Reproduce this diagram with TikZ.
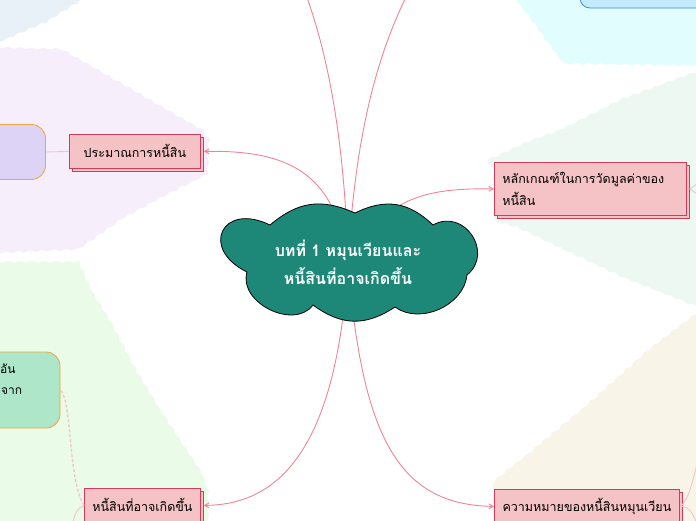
\documentclass[tikz,border=0pt]{standalone}
\usepackage{fontspec}
\newfontfamily\thaifont[Script=Thai]{Loma}
\usetikzlibrary{arrows,shadows,decorations.pathmorphing}
\definecolor{coreteal}{HTML}{1E8878}
\definecolor{boxfill}{HTML}{F5C3C5}
\definecolor{boxline}{HTML}{D23C5A}
\definecolor{linkpink}{HTML}{F08496}
\definecolor{faintpink}{HTML}{F4C4CC}
\definecolor{sideorange}{HTML}{F0A43C}
\definecolor{sidepurple}{HTML}{DDD3F7}
\definecolor{sidegreen}{HTML}{ADE6C9}
\definecolor{sideblue}{HTML}{C3EBFB}
\definecolor{sideblueline}{HTML}{3C8ED8}
\definecolor{zoneblue}{HTML}{E7F1F7}
\definecolor{zonepurple}{HTML}{F6EEFB}
\definecolor{zonegreen}{HTML}{EAFBE8}
\definecolor{zonecyan}{HTML}{E1FDFD}
\definecolor{zonemint}{HTML}{EEF8F3}
\definecolor{zonebeige}{HTML}{F9F4E8}
\tikzset{
  topic/.style={draw=boxline, fill=boxfill, line width=0.8pt, inner xsep=8pt,
    font=\thaifont\fontsize{12.5}{22}\selectfont, anchor=north west,
    copy shadow={shadow xshift=3pt, shadow yshift=-3pt}},
  link/.style={draw=linkpink, line width=0.9pt},
  zone/.style={decorate, decoration={snake, amplitude=1pt, segment length=12pt}},
  side/.style={draw=sideorange, line width=0.8pt, rounded corners=14pt}
}

\begin{document}
\begin{tikzpicture}[x=1pt, y=-1pt, >=angle 60]
 \useasboundingbox (0,0) rectangle (696,520);
 \clip (0,0) rectangle (696,520);
 \begin{scope}
  \fill[zoneblue, zone] (-20,-20) -- (100,-20) -- (80,0) -- (40,25) -- (0,42) -- (-20,44) -- cycle;
  \fill[zonepurple, zone] (-20,47) -- (60,49) -- (197,128) -- (206,140) -- (204,178) -- (160,200) -- (120,222) -- (77,252) -- (-20,256) -- cycle;
  \fill[zonegreen, zone] (-20,262) -- (78,262) -- (90,290) -- (110,323) -- (133,367) -- (157,407) -- (200,472) -- (206,490) -- (206,540) -- (-20,540) -- cycle;
  \fill[zonecyan, zone] (517,-20) -- (517,0) -- (533,20) -- (547,40) -- (563,60) -- (716,62) -- (716,-20) -- cycle;
  \fill[zonemint, zone] (488,160) -- (520,145) -- (560,130) -- (620,100) -- (696,72) -- (716,72) -- (716,318) -- (696,310) -- (620,280) -- (560,252) -- (510,228) -- (488,222) -- cycle;
  \fill[zonebeige, zone] (493,540) -- (493,484) -- (523,460) -- (580,413) -- (647,353) -- (696,316) -- (716,316) -- (716,540) -- cycle;
 \end{scope}
 \draw[side, draw=sideblueline, fill=sideblue, rounded corners=10pt] (580,-30) rectangle (730,8);
 \node[side, fill=sidepurple, minimum width=75pt, minimum height=55pt] (plan) at (8,152) {};
 \node[side, fill=sidegreen, minimum width=90pt, minimum height=76pt] (note) at (15,390) {};
 \node[font=\thaifont\fontsize{12}{22}\selectfont, anchor=west, inner sep=0pt] (notea) at (0,369) {อัน};
 \node[font=\thaifont\fontsize{12}{22}\selectfont, anchor=west, inner sep=0pt] (noteb) at (1,391) {จาก};

 \node[topic, minimum width=131pt, minimum height=34pt] (estimate) at (69,134) {ประมาณการหนี้สิน};
 \node[topic, minimum width=192pt, minimum height=53pt, text width=176pt, align=left] (rule) at (494,162) {หลักเกณฑ์ในการวัดมูลค่าของ\\หนี้สิน};
 \node[topic, minimum width=116pt, minimum height=34pt] (contingent) at (84,488) {หนี้สินที่อาจเกิดขึ้น};
 \node[topic, minimum width=185pt, minimum height=34pt] (meaning) at (494,489) {ความหมายของหนี้สินหมุนเวียน};

 \coordinate (hub) at (348,262);
 \coordinate (upa) at (306,-5);
 \coordinate (upb) at (407,-5);
 \coordinate (rulea) at (706,178);
 \coordinate (ruleb) at (706,200);
 \coordinate (meana) at (704,440);
 \coordinate (meanb) at (700,530);
 \coordinate (down) at (71,530);

 \draw[faintpink, line width=0.9pt] (plan.east) -- (estimate.west);
 \draw[faintpink, line width=1.4pt, densely dashed] (contingent.west) .. controls (68,480) and (72,400) .. (note.east);
 \draw[faintpink, line width=0.9pt] (contingent.west) .. controls (76,510) .. (down);
 \draw[faintpink, line width=0.9pt] ([xshift=3pt]rule.east) -- (rulea);
 \draw[faintpink, line width=0.9pt] ([xshift=3pt]rule.east) -- (ruleb);
 \draw[faintpink, line width=0.9pt] ([xshift=1pt]meaning.east) .. controls (692,495) and (694,470) .. (meana);
 \draw[faintpink, line width=0.9pt] ([xshift=1pt]meaning.east) .. controls (690,508) .. (meanb);

 \draw[link] (hub) .. controls (345,150) and (330,60) .. (upa);
 \draw[link] (hub) .. controls (355,140) and (375,60) .. (upb);
 \draw[link, ->] (hub) .. controls (335,170) and (285,150) .. ([xshift=3pt]estimate.east);
 \draw[link, ->] (hub) .. controls (385,195) and (430,188) .. (rule.west);
 \draw[link, ->] (hub) .. controls (338,430) and (290,505) .. ([xshift=3pt]contingent.east);
 \draw[link, ->] (hub) .. controls (362,440) and (400,505) .. (meaning.west);

 \filldraw[fill=coreteal, draw=black, line width=0.8pt] (270,225) to[bend left=32, looseness=1.1] (355,213)
   to[bend left=35, looseness=1.1] (433,225) to[bend left=85, looseness=1.5] (467,275)
   to[bend left=60] (395,307) to[bend left=35, looseness=1.1] (313,305)
   to[bend left=80, looseness=1.1] (247,272) to[bend left=90, looseness=2.6] (270,225) -- cycle;
 \node[font=\thaifont\bfseries\fontsize{16}{28}\selectfont, text=white, align=center] (core) at (hub) {บทที่ 1 หมุนเวียนและ\\หนี้สินที่อาจเกิดขึ้น};
\end{tikzpicture}
\end{document}
